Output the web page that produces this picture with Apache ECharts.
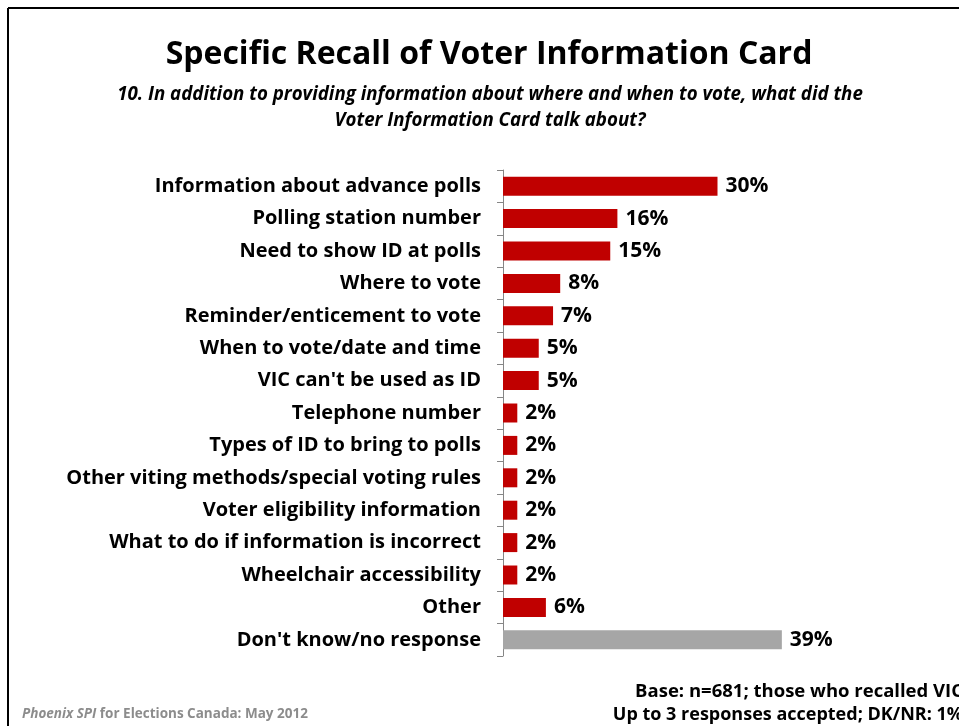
<!DOCTYPE html>
<html>
<head>
<meta charset="utf-8">
<script src="https://cdn.jsdelivr.net/npm/echarts@6/dist/echarts.min.js"></script>
<style>
  html, body { margin: 0; padding: 0; background: #fff; }
  #chart { width: 959px; height: 726px; }
</style>
</head>
<body>
<div id="chart"></div>
<script>
// Survey responses (percent of respondents who recalled the card)
const categories = [
  "Information about advance polls",
  "Polling station number",
  "Need to show ID at polls",
  "Where to vote",
  "Reminder/enticement to vote",
  "When to vote/date and time",
  "VIC can't be used as ID",
  "Telephone number",
  "Types of ID to bring to polls",
  "Other viting methods/special voting rules",
  "Voter eligibility information",
  "What to do if information is incorrect",
  "Wheelchair accessibility",
  "Other",
  "Don't know/no response"
];
const values = [30, 16, 15, 8, 7, 5, 5, 2, 2, 2, 2, 2, 2, 6, 39];
const greyCategories = ["Don't know/no response"];

const FONT = '"Open Sans", "Noto Sans", sans-serif';
const RED = '#C00000';
const GREY = '#A6A6A6';

const chart = echarts.init(document.getElementById('chart'));

const seriesData = values.map((v, i) => ({
  value: v,
  itemStyle: { color: greyCategories.includes(categories[i]) ? GREY : RED }
}));

chart.setOption({
  animation: false,
  backgroundColor: '#fff',
  title: [
    {
      text: 'Specific Recall of Voter Information Card',
      left: 484, top: 34, textAlign: 'center',
      textStyle: { fontFamily: FONT, fontWeight: 'bold', fontSize: 32, color: '#000' }
    },
    {
      text: '10. In addition to providing information about where and when to vote, what did the\nVoter Information Card talk about?',
      left: 485, top: 77, textAlign: 'center',
      textStyle: { fontFamily: FONT, fontWeight: 'bold', fontStyle: 'italic', fontSize: 18.7, lineHeight: 26, color: '#000' }
    }
  ],
  grid: { left: 503, top: 170, width: 286, height: 486, containLabel: false },
  xAxis: {
    type: 'value', min: 0, max: 40,
    show: false
  },
  yAxis: {
    type: 'category',
    data: categories,
    inverse: true,
    axisLine: { show: true, lineStyle: { color: '#868686', width: 1 } },
    axisTick: { show: true, length: 6, lineStyle: { color: '#868686' } },
    axisLabel: {
      fontFamily: FONT, fontWeight: 'bold', fontSize: 20, color: '#000', margin: 22
    },
    splitLine: { show: false }
  },
  series: [{
    type: 'bar',
    data: seriesData,
    barWidth: 19,
    label: {
      show: true, position: 'right', distance: 8,
      formatter: p => p.value + '%',
      fontFamily: FONT, fontWeight: 'bold', fontSize: 21, color: '#000'
    }
  }],
  graphic: [
    // frame lines on the top and left edges
    { type: 'line', shape: { x1: 8, y1: 8, x2: 959, y2: 8 }, style: { stroke: '#000', lineWidth: 2 } },
    { type: 'line', shape: { x1: 8, y1: 8, x2: 8, y2: 726 }, style: { stroke: '#000', lineWidth: 2 } },
    {
      type: 'text', left: 22, top: 707,
      style: {
        rich: {
          a: { fontFamily: FONT, fontStyle: 'italic', fontWeight: 'bold', fontSize: 13.5, fill: '#8C8C8C' },
          b: { fontFamily: FONT, fontWeight: 'bold', fontSize: 13.5, fill: '#8C8C8C' }
        },
        text: '{a|Phoenix SPI}{b| for Elections Canada: May 2012}'
      }
    },
    {
      type: 'text', right: -4, top: 682,
      style: {
        text: 'Base: n=681; those who recalled VIC',
        fontFamily: FONT, fontWeight: 'bold', fontSize: 18.5, fill: '#000'
      }
    },
    {
      type: 'text', right: -4, top: 706,
      style: {
        text: 'Up to 3 responses accepted; DK/NR: 1%',
        fontFamily: FONT, fontWeight: 'bold', fontSize: 18, fill: '#000'
      }
    }
  ]
});
</script>
</body>
</html>
